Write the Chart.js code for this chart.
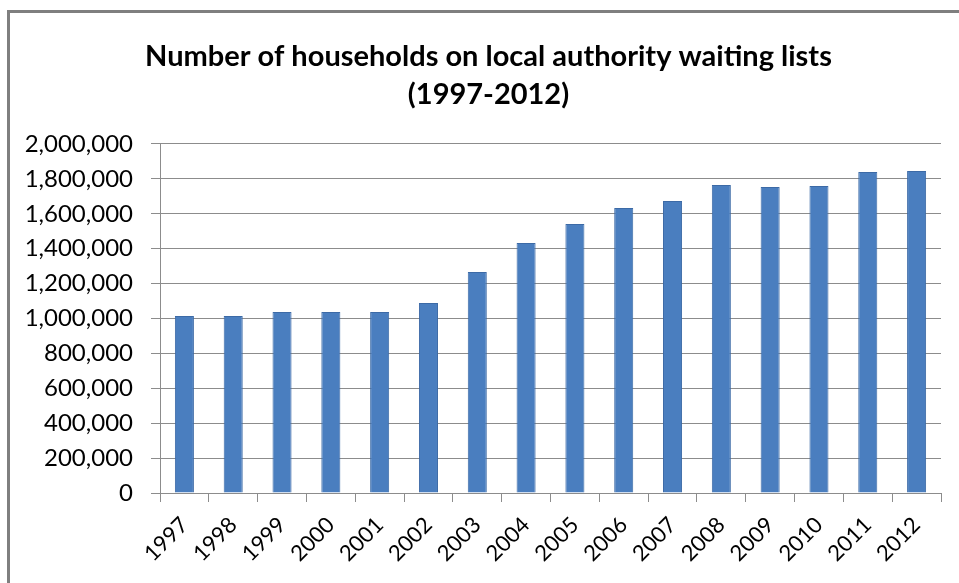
<!DOCTYPE html>
<html>
<head>
<meta charset="utf-8">
<script src="https://cdn.jsdelivr.net/npm/chart.js@4"></script>
<style>
  html, body { margin: 0; padding: 0; background: #fff; }
  #wrap { position: relative; width: 959px; height: 583px; }
  #frame {
    position: absolute; left: 7px; top: 10px; right: -4px; bottom: -4px;
    border-left: 3px solid #7f7f7f; border-top: 3px solid #7f7f7f;
  }
  canvas { position: absolute; left: 0; top: 0; }
</style>
</head>
<body>
<div id="wrap">
  <div id="frame"></div>
  <canvas id="waiting_chart" width="959" height="583"></canvas>
</div>
<script>
// households on local authority waiting lists
const years = ['1997', '1998', '1999', '2000', '2001', '2002', '2003', '2004',
               '2005', '2006', '2007', '2008', '2009', '2010', '2011', '2012'];
const households = [1014000, 1014000, 1037000, 1037000, 1037000, 1089000, 1266000, 1433000,
                    1542000, 1633000, 1673000, 1765000, 1754000, 1759000, 1840000, 1845000];
const titleLines = ['Number of households on local authority waiting lists', '(1997-2012)'];
const yMax = 2000000;
const yStep = 200000;

const fontFamily = 'Lato, "Open Sans", sans-serif';

// the left padding pushes the y box right, so let its labels spill back over the padding
const unclipYLabels = {
    id: 'unclipYLabels',
    afterLayout(chart) {
        chart.scales.y.left = 0;
    }
};

document.addEventListener('DOMContentLoaded', function() {
    const ctx = document.getElementById('waiting_chart');

    new Chart(ctx, {
        type: 'bar',
        data: {
            labels: years,
            datasets: [{
                label: 'Households',
                data: households,
                backgroundColor: '#4a7ebf',
                borderColor: '#3c6aa6',
                borderWidth: 1,
                barPercentage: 0.78,
                categoryPercentage: 0.5
            }]
        },
        plugins: [unclipYLabels],
        options: {
            responsive: false,
            animation: false,
            // left padding only to centre the title like the original
            layout: { padding: { left: 36, right: 18, top: 0, bottom: 0 } },
            plugins: {
                legend: { display: false },
                tooltip: { enabled: false },
                title: {
                    display: true,
                    text: titleLines,
                    color: '#000',
                    font: { family: fontFamily, size: 29, weight: 'bold', lineHeight: 1.31 },
                    padding: { top: 38, bottom: 30 }
                }
            },
            scales: {
                x: {
                    grid: {
                        drawOnChartArea: false,
                        color: '#8c8c8c',
                        tickLength: 9,
                        offset: true
                    },
                    border: { color: '#8c8c8c' },
                    ticks: {
                        color: '#000',
                        font: { family: fontFamily, size: 22 },
                        minRotation: 45,
                        maxRotation: 45,
                        padding: 10
                    },
                    afterFit: function(scale) { scale.height = 90; }
                },
                y: {
                    min: 0,
                    max: yMax,
                    grid: { color: '#8c8c8c', tickLength: 9 },
                    border: { color: '#8c8c8c' },
                    ticks: {
                        stepSize: yStep,
                        color: '#000',
                        padding: 18,
                        font: { family: fontFamily, size: 24 },
                        callback: v => v.toLocaleString('en-US')
                    },
                    afterFit: function(scale) { scale.width = 124; }
                }
            }
        }
    });
});
</script>
</body>
</html>
